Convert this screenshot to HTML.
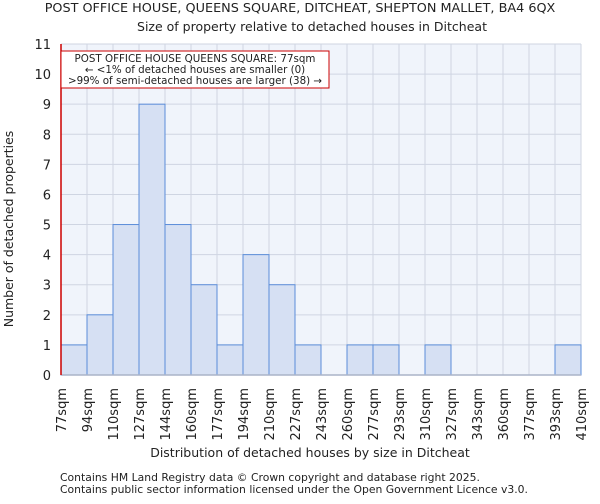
<!DOCTYPE html>
<html><head><meta charset="utf-8"><style>
body{margin:0;background:#fff;font-family:"DejaVu Sans","Liberation Sans",sans-serif;}
svg text{font-family:"DejaVu Sans","Liberation Sans",sans-serif;fill:#222;}
</style></head><body>
<svg id="chart" width="600" height="500">
<text x="300" y="12" text-anchor="middle" font-size="12.8">POST OFFICE HOUSE, QUEENS SQUARE, DITCHEAT, SHEPTON MALLET, BA4 6QX</text>
<text x="312" y="31" text-anchor="middle" font-size="12.5">Size of property relative to detached houses in Ditcheat</text>
<rect x="61" y="44" width="520" height="331" fill="#f0f4fb"/>
<g id="grid"></g><g id="bars"></g><g id="axes"></g>
<line x1="61" y1="44" x2="61" y2="375" stroke="#cc0000" stroke-width="1.5"/>
<rect x="61" y="51" width="268" height="37" fill="#fff" stroke="#cc0000" stroke-width="1"/>
<text x="195" y="62" text-anchor="middle" font-size="10.3">POST OFFICE HOUSE QUEENS SQUARE: 77sqm</text>
<text x="195" y="73" text-anchor="middle" font-size="10.3">← &lt;1% of detached houses are smaller (0)</text>
<text x="195" y="84" text-anchor="middle" font-size="10.3">&gt;99% of semi-detached houses are larger (38) →</text>
<text x="310" y="457" text-anchor="middle" font-size="12.5">Distribution of detached houses by size in Ditcheat</text>
<text transform="translate(13,229) rotate(-90)" text-anchor="middle" font-size="12.5">Number of detached properties</text>
<text x="60" y="481" font-size="10.8">Contains HM Land Registry data © Crown copyright and database right 2025.</text>
<text x="60" y="493" font-size="10.8">Contains public sector information licensed under the Open Government Licence v3.0.</text>
</svg>
<script>
const binLabels=["77sqm","94sqm","110sqm","127sqm","144sqm","160sqm","177sqm","194sqm","210sqm","227sqm","243sqm","260sqm","277sqm","293sqm","310sqm","327sqm","343sqm","360sqm","377sqm","393sqm","410sqm"];
const counts=[1,2,5,9,5,3,1,4,3,1,0,1,1,0,1,0,0,0,0,1];
const yTicks=[0,1,2,3,4,5,6,7,8,9,10,11];
const NS="http://www.w3.org/2000/svg";
const X0=61,X1=581,Y0=375,Y1=44,YMAX=11;
const nb=counts.length;
function xs(i){return X0+(X1-X0)*i/nb;}
function ys(v){return Y0-(Y0-Y1)*v/YMAX;}
function mk(t,a,p){const e=document.createElementNS(NS,t);for(const k in a)e.setAttribute(k,a[k]);p.appendChild(e);return e;}
const grid=document.getElementById('grid'),bars=document.getElementById('bars'),axes=document.getElementById('axes');
yTicks.forEach(v=>{
  const l=mk('line',{x1:X0,x2:X1,y1:ys(v),y2:ys(v),stroke:'#cfd5e2','stroke-width':1},grid);
  
  
  const t=mk('text',{x:X0-10,y:ys(v)+5,'text-anchor':'end','font-size':13},axes);
  t.textContent=v;
  
  
});
binLabels.forEach((lab,i)=>{
  const l=mk('line',{x1:xs(i),x2:xs(i),y1:Y1,y2:Y0,stroke:'#cfd5e2','stroke-width':1},grid);
  
  
  const t=mk('text',{transform:`translate(${xs(i)+5},388) rotate(-90)`,'text-anchor':'end','font-size':13},axes);
  t.textContent=lab;
  
  
});
counts.forEach((c,i)=>{
  if(c<=0)return;
  const r=mk('rect',{x:xs(i),y:ys(c),width:xs(i+1)-xs(i),height:Y0-ys(c),fill:'#d6e0f3',stroke:'#5b8dd9','stroke-width':1},bars);
  
  
});
const ax=mk('line',{x1:X0,x2:X1,y1:Y0,y2:Y0,stroke:'#aab4c8','stroke-width':1.5},axes);


</script>
</body></html>
